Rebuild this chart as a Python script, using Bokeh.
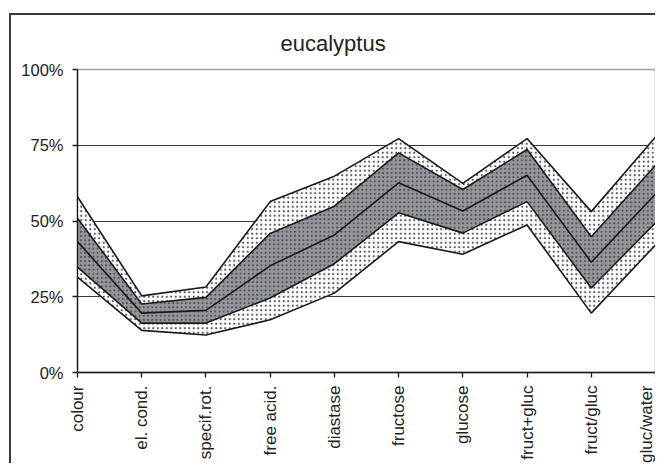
import math
from bokeh.plotting import figure
from bokeh.models import Range1d, FixedTicker, NumeralTickFormatter, Title
from bokeh.embed import file_html
from bokeh.resources import INLINE

categories = ["colour", "el. cond.", "specif.rot.", "free acid.", "diastase",
              "fructose", "glucose", "fruct+gluc", "fruct/gluc", "gluc/water"]
maximum = [0.580, 0.253, 0.282, 0.564, 0.648, 0.772, 0.624, 0.772, 0.531, 0.777]
upper_q = [0.509, 0.226, 0.248, 0.459, 0.549, 0.725, 0.604, 0.736, 0.448, 0.684]
median  = [0.432, 0.196, 0.205, 0.352, 0.454, 0.626, 0.533, 0.651, 0.364, 0.589]
lower_q = [0.348, 0.163, 0.163, 0.246, 0.359, 0.527, 0.460, 0.564, 0.279, 0.494]
minimum = [0.315, 0.139, 0.124, 0.174, 0.262, 0.432, 0.390, 0.487, 0.196, 0.421]
y_ticks = [0, 0.25, 0.5, 0.75, 1.0]
grid_ticks = [0.25, 0.5, 0.75]

xs = list(range(len(categories)))
FONT = "Liberation Sans"

p = figure(width=646, height=450, output_backend="svg", toolbar_location=None,
           x_range=Range1d(0, len(categories) - 1), y_range=Range1d(0, 1),
           min_border_left=66, min_border_right=2, min_border_top=54, min_border_bottom=92)
p.margin = (13, 0, 0, 9)
p.styles = {"border-left": "2px solid #3a3a3a", "border-top": "2px solid #3a3a3a"}

p.title = Title(text="eucalyptus", align="left", offset=203, standoff=27,
                text_font=FONT, text_font_size="22px", text_font_style="normal",
                text_color="#222222")

p.background_fill_color = "white"
p.border_fill_color = "white"
p.outline_line_color = "#9aa0a6"
p.outline_line_width = 1.5

# bands
dot_white = dict(fill_color="white", hatch_pattern="dot", hatch_color="#5a5a5a",
                 hatch_scale=4.5, hatch_weight=1.5)
p.varea(x=xs, y1=minimum, y2=lower_q, **dot_white)
p.varea(x=xs, y1=upper_q, y2=maximum, **dot_white)
p.varea(x=xs, y1=lower_q, y2=upper_q, fill_color="#93969b", hatch_pattern="dot",
        hatch_color="#4e5155", hatch_scale=4.2, hatch_weight=1.7)

for series in (maximum, upper_q, median, lower_q, minimum):
    p.line(xs, series, line_color="#1a1a1a", line_width=1.6)

# axes
p.xaxis.ticker = FixedTicker(ticks=xs)
p.xaxis.major_label_overrides = {i: c for i, c in enumerate(categories)}
p.xaxis.major_label_orientation = math.pi / 2
p.xaxis.major_label_standoff = 8
p.yaxis.ticker = FixedTicker(ticks=y_ticks)
p.yaxis.formatter = NumeralTickFormatter(format="0%")
p.yaxis.major_label_standoff = 9
for ax in (p.xaxis, p.yaxis):
    ax.axis_line_color = "#1a1a1a"
    ax.axis_line_width = 1.3
    ax.major_tick_line_color = "#1a1a1a"
    ax.major_tick_line_width = 1.3
    ax.major_tick_in = 0
    ax.major_tick_out = 5
    ax.minor_tick_line_color = None
    ax.major_label_text_font = FONT
    ax.major_label_text_color = "#222222"
p.xaxis.major_label_text_font_size = "17px"
p.yaxis.major_label_text_font_size = "16.5px"

p.xgrid.grid_line_color = None
p.ygrid.ticker = FixedTicker(ticks=grid_ticks)
p.ygrid.grid_line_color = "#3a3a3a"
p.ygrid.grid_line_width = 1

open("out.html", "w").write(file_html(p, INLINE))
